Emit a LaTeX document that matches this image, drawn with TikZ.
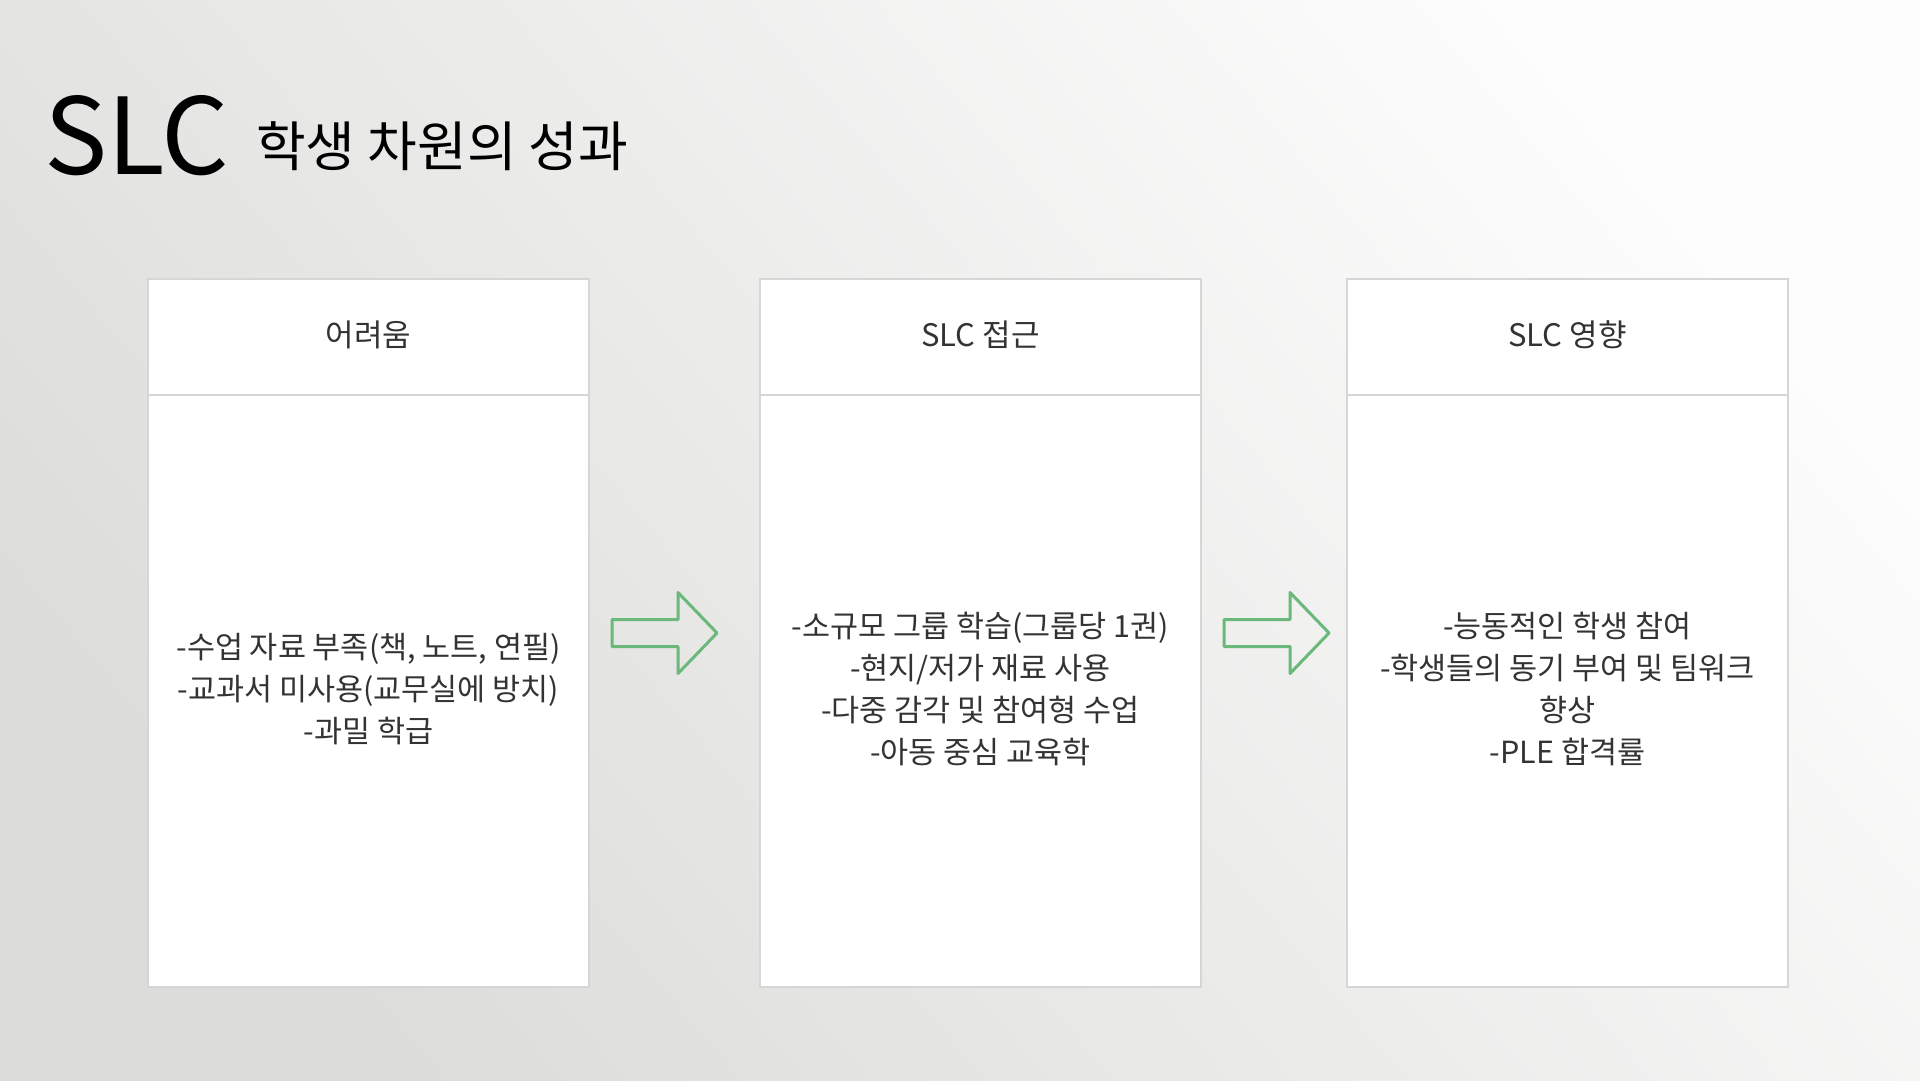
\documentclass[tikz,border=0pt]{standalone}
\usepackage{fontspec}
\setmainfont{Noto Sans CJK KR}
\usetikzlibrary{calc}
\definecolor{bgdark}{HTML}{DCDCDA}
\definecolor{bgmid}{HTML}{F0F0EE}
\definecolor{bglight}{HTML}{FDFDFD}
\definecolor{boxline}{HTML}{D6D6D6}
\definecolor{txt}{HTML}{333333}
\definecolor{arrgreen}{HTML}{6AB87A}
\tikzset{
  panel/.style={draw=boxline, line width=1.5pt, fill=white, minimum width=441pt, minimum height=708pt, inner sep=0pt},
  divider/.style={draw=boxline, line width=1.2pt},
  headtext/.style={text=txt, inner sep=0pt, font=\fontsize{31}{36}\selectfont},
  bodytext/.style={text=txt, inner sep=0pt, align=center, font=\fontsize{30.5}{42}\selectfont},
  blockarrow/.style={draw=arrgreen, line width=3pt, line join=round},
}
\begin{document}
\begin{tikzpicture}[x=1pt,y=-1pt]
\useasboundingbox (0,0) rectangle (1920,1080);
\shade[top color=bglight, middle color=bgmid, bottom color=bgdark, shading angle=-50] (0,0) rectangle (1920,1080);

% title
\node[anchor=base west, inner sep=0pt, font=\fontsize{106}{110}\selectfont, text=black] (t1) at (44,174) {SLC};
\node[anchor=base west, inner sep=0pt, font=\fontsize{54}{60}\selectfont, text=black] (t2) at (256,166) {학생 차원의 성과};

% panels
\node[panel] (b1) at (368.5,633) {};
\node[panel] (b2) at (980.5,633) {};
\node[panel] (b3) at (1567.5,633) {};

\foreach \b in {b1,b2,b3}{
  \draw[divider] (\b.west |- 0,395) -- (\b.east |- 0,395);
}

% headers
\node[headtext] (h1) at (368.5,335) {어려움};
\node[headtext] (h2) at (980.5,335) {SLC 접근};
\node[headtext] (h3) at (1567.5,335) {SLC 영향};

% bodies
\node[bodytext] (c1) at (368.5,689) {-수업 자료 부족(책, 노트, 연필)\\-교과서 미사용(교무실에 방치)\\-과밀 학급};
\node[bodytext] (c2) at (980.5,689) {-소규모 그룹 학습(그룹당 1권)\\-현지/저가 재료 사용\\-다중 감각 및 참여형 수업\\-아동 중심 교육학};
\node[bodytext] (c3) at (1567.5,689) {-능동적인 학생 참여\\-학생들의 동기 부여 및 팀워크\\향상\\-PLE 합격률};

% arrows
\coordinate (a1) at (612,633);
\coordinate (a2) at (1224,633);
\foreach \a in {a1,a2}{
  \draw[blockarrow] ($(\a)+(0,-13.5)$) -- ++(66,0) -- ++(0,-27) -- ($(\a)+(105,0)$) -- ($(\a)+(66,40.5)$) -- ++(0,-27) -- ($(\a)+(0,13.5)$) -- cycle;
}
\end{tikzpicture}
\end{document}
